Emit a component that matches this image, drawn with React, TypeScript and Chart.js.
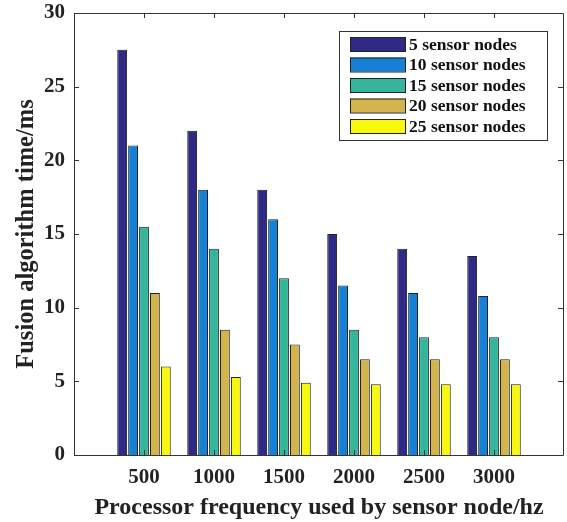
import React, { useEffect, useRef } from "react";
import { Chart, registerables } from "chart.js";

Chart.register(...registerables);

const categories = ["500", "1000", "1500", "2000", "2500", "3000"];
const seriesNames = ["5 sensor nodes", "10 sensor nodes", "15 sensor nodes", "20 sensor nodes", "25 sensor nodes"];
const nodes5 = [27.5, 22, 18, 15, 14, 13.5];
const nodes10 = [21, 18, 16, 11.5, 11, 10.8];
const nodes15 = [15.5, 14, 12, 8.5, 8, 8];
const nodes20 = [11, 8.5, 7.5, 6.5, 6.5, 6.5];
const nodes25 = [6, 5.3, 4.9, 4.8, 4.8, 4.8];
const yTicks = [0, 5, 10, 15, 20, 25, 30];
const colors = ["#2f2a86", "#1580d8", "#35b59c", "#d3b44c", "#f8f80f"];

const FONT = "'Liberation Serif', 'Times New Roman', serif";

const framePlugin = {
  id: "frame",
  afterDatasetsDraw(chart: any) {
    const { ctx, scales } = chart;
    const left = Math.round(scales.x.getPixelForValue(0));
    const right = Math.round(scales.x.getPixelForValue(categories.length + 1));
    const top = Math.round(scales.y.getPixelForValue(30));
    const bottom = Math.round(scales.y.getPixelForValue(0));
    ctx.save();
    ctx.strokeStyle = "#333333";
    ctx.lineWidth = 1;
    ctx.beginPath();
    ctx.rect(left + 0.5, top + 0.5, right - left - 1, bottom - top);
    ctx.stroke();
    const tl = 5;
    ctx.beginPath();
    for (const v of yTicks) {
      const y = Math.round(scales.y.getPixelForValue(v)) + 0.5;
      ctx.moveTo(left, y);
      ctx.lineTo(left + tl, y);
      ctx.moveTo(right - 1, y);
      ctx.lineTo(right - 1 - tl, y);
    }
    for (let i = 1; i <= categories.length; i++) {
      const x = Math.round(scales.x.getPixelForValue(i)) + 0.5;
      ctx.moveTo(x, top);
      ctx.lineTo(x, top + tl);
      ctx.moveTo(x, bottom);
      ctx.lineTo(x, bottom - tl);
    }
    ctx.stroke();

    // legend
    const bx = 339, by = 31, bw = 208, bh = 109;
    ctx.fillStyle = "#ffffff";
    ctx.fillRect(bx, by, bw, bh);
    ctx.strokeStyle = "#333333";
    ctx.strokeRect(bx + 0.5, by + 0.5, bw, bh);
    ctx.font = `bold 17.5px ${FONT}`;
    ctx.textBaseline = "middle";
    ctx.textAlign = "left";
    seriesNames.forEach((name, i) => {
      const cy = by + 13 + i * 20.5;
      ctx.fillStyle = colors[i];
      ctx.fillRect(350, cy - 7, 55, 14);
      ctx.strokeStyle = "#222222";
      ctx.strokeRect(350.5, cy - 6.5, 55, 14);
      ctx.fillStyle = "#111111";
      ctx.fillText(name, 409, cy + 1);
    });
    ctx.restore();
  },
};

export default function App() {
  const ref = useRef<HTMLCanvasElement | null>(null);
  useEffect(() => {
    if (!ref.current) return;
    const labels = ["", ...categories, ""];
    const seriesData = [nodes5, nodes10, nodes15, nodes20, nodes25];
    const chart = new Chart(ref.current, {
      type: "bar",
      data: {
        labels,
        datasets: seriesData.map((d, i) => ({
          label: seriesNames[i],
          data: [null, ...d, null],
          backgroundColor: colors[i],
          borderColor: "#222222",
          borderWidth: 1,
          categoryPercentage: 0.78,
          barPercentage: 0.9,
        })),
      },
      options: {
        animation: false,
        responsive: false,
        maintainAspectRatio: false,
        layout: { padding: { top: 13, right: 3, left: 0, bottom: 0 } },
        plugins: { legend: { display: false }, tooltip: { enabled: false } },
        scales: {
          x: {
            type: "category",
            offset: false,
            grid: { display: false, drawTicks: false },
            border: { display: false },
            ticks: {
              autoSkip: false,
              maxRotation: 0,
              padding: 10,
              color: "#222222",
              font: { family: FONT, weight: "bold", size: 21 },
            },
            title: {
              display: true,
              text: "Processor frequency used by sensor node/hz",
              color: "#222222",
              font: { family: FONT, weight: "bold", size: 24 },
              padding: { top: 0, bottom: 0 },
            },
            afterFit(scale: any) {
              scale.height = 67;
              scale.paddingLeft = 0;
              scale.paddingRight = 0;
            },
          },
          y: {
            min: 0,
            max: 30,
            grid: { display: false, drawTicks: false },
            border: { display: false },
            ticks: {
              stepSize: 5,
              padding: 9,
              color: "#222222",
              font: { family: FONT, weight: "bold", size: 21 },
            },
            title: {
              display: true,
              text: "Fusion algorithm time/ms",
              color: "#222222",
              font: { family: FONT, weight: "bold", size: 24.5 },
              padding: { top: 12, bottom: 0 },
            },
            afterFit(scale: any) {
              scale.width = 74;
              scale.paddingTop = 0;
              scale.paddingBottom = 0;
            },
          },
        },
      },
      plugins: [framePlugin],
    });
    return () => chart.destroy();
  }, []);
  return (
    <div style={{ position: "fixed", left: 0, top: 0, width: 567, height: 522, background: "#fff" }}>
      <canvas ref={ref} width={567} height={522} style={{ width: 567, height: 522 }} />
    </div>
  );
}
